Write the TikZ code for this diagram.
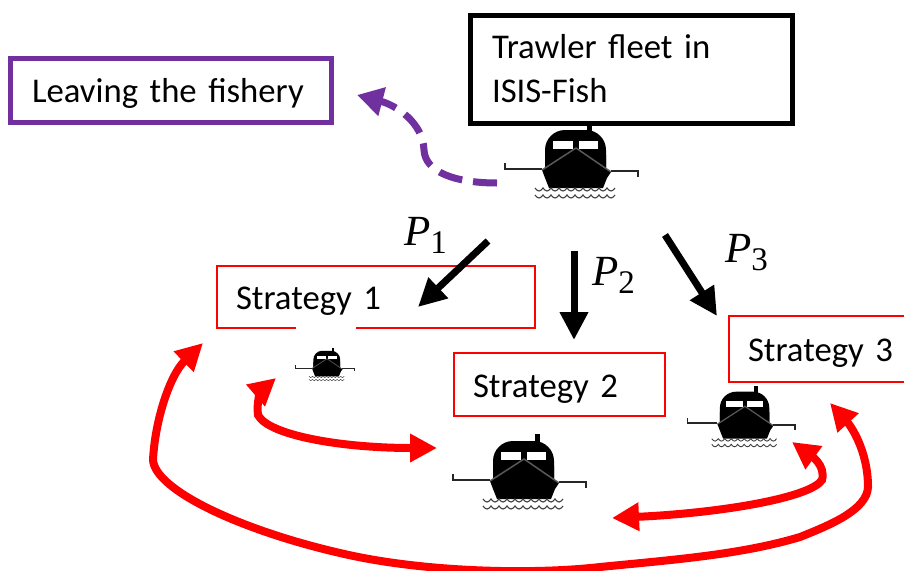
\documentclass[tikz,border=0pt]{standalone}
\usepackage{fontspec}
\setmainfont[WordSpace=0.75]{Carlito}
\newfontfamily\mathlike{Liberation Serif}
\usetikzlibrary{arrows.meta}
\definecolor{purp}{RGB}{112,48,160}
\newcommand{\boatat}[3]{%
\begin{scope}[shift={(#1,#2)},scale=#3]
 \fill (11,-37) rectangle (16,-27);
 \fill[rounded corners=#3*20pt] (-31,12) -- (-31,-30) -- (30,-30) -- (30,13);
 \fill (-31,-5) -- (30,-5) -- (30,8) -- (35,12) -- (31,18) -- (27,28) -- (-27,28) -- (-31,18) -- (-34,10) -- (-31,8) -- cycle;
 \fill[white] (-23,-19) rectangle (-3,-11);
 \fill[white] (3,-19) rectangle (22,-11);
 \draw[gray!70!black,line width=#3*1.5pt] (-34,10) -- (0,-12) -- (35,12);
 \draw[black!85,line width=#3*2pt] (-71,3) -- (-71,9) -- (-34,9);
 \draw[black!85,line width=#3*2pt] (35,11) -- (62,11) -- (62,17);
 \foreach \yy in {28,35}{
  \draw[black!75,line width=#3*1.1pt] (-41,\yy)
   \foreach \xx in {-41,-33,...,33}{ .. controls (\xx+3,\yy+4) and (\xx+5,\yy+4) .. (\xx+8,\yy)};
 }
\end{scope}}
\tikzset{
 x=1pt,y=-1pt,
 redbox/.style={draw=red,line width=2pt,outer sep=0pt,inner xsep=19pt,inner ysep=0pt,align=left,anchor=north west,font=\fontsize{34.7}{40}\selectfont},
 blackarrow/.style={line width=7pt,-{Triangle[length=28pt,width=27pt]}},
 redarrow/.style={red,line width=8pt,{Triangle[length=27pt,width=27pt]}-{Triangle[length=27pt,width=27pt]}},
 label/.style={inner sep=0pt,anchor=base west,font=\fontsize{43}{46}\selectfont\mathlike\itshape},
}
\begin{document}
\begin{tikzpicture}
\useasboundingbox (0,0) rectangle (904,570);
\fill[white] (0,0) rectangle (904,570);
% boxes
\node[draw=black,line width=5pt,outer sep=0pt,inner xsep=22pt,inner ysep=0pt,text width=278pt,minimum height=108pt,align=left,anchor=north west,font=\fontsize{34.7}{44}\selectfont] (fleet) at (470,15) {Trawler fleet in\\ISIS-Fish};
\node[draw=purp,line width=5pt,outer sep=0pt,inner xsep=22pt,inner ysep=0pt,text width=277pt,minimum height=64pt,align=left,anchor=north west,font=\fontsize{34.7}{40}\selectfont] (leave) at (10,58) {\rule{0pt}{31pt}Leaving the fishery};
\node[redbox,text width=280pt,minimum height=62pt] (s1) at (217,266) {\rule{0pt}{31pt}Strategy 1};
\node[redbox,text width=173pt,minimum height=63pt] (s2) at (454,353) {\rule{0pt}{31pt}Strategy 2};
\node[redbox,text width=190pt,minimum height=66pt] (s3) at (729,316) {\rule{0pt}{31pt}Strategy 3};
\fill[white] (296,322) rectangle (356,335);
% boats
\boatat{576}{160}{1}
\boatat{524}{471}{1}
\boatat{745}{416}{0.81}
\boatat{327}{364}{0.44}
% labels
\node[label] (p1) at (404,245) {P\raisebox{-8pt}{\fontsize{33}{34}\selectfont\upshape 1}};
\node[label] (p2) at (592,285) {P\raisebox{-8pt}{\fontsize{33}{34}\selectfont\upshape 2}};
\node[label] (p3) at (725,262) {P\raisebox{-8pt}{\fontsize{33}{34}\selectfont\upshape 3}};
% connector ends
\coordinate (a1) at (488,241); \coordinate (b1) at (418,307);
\coordinate (a2) at (574,251); \coordinate (b2) at (574,340);
\coordinate (a3) at (665,235); \coordinate (b3) at (717,316);
\coordinate (pa) at (497,183); \coordinate (pb) at (357,95);
\coordinate (r1a) at (203,343); \coordinate (r1b) at (830,403);
\coordinate (r2a) at (276,378); \coordinate (r2b) at (437,448);
\coordinate (r3a) at (792,442); \coordinate (r3b) at (612,518);
% black arrows
\draw[blackarrow] (a1) -- (b1);
\draw[blackarrow] (a2) -- (b2);
\draw[blackarrow] (a3) -- (b3);
% purple
\draw[purp,line width=7pt,dash pattern=on 24pt off 11pt,-{Triangle[length=26pt,width=28pt]}] (pa) .. controls (455,183) and (425,172) .. (424,150) .. controls (423,122) and (395,105) .. (pb);
% red
\draw[redarrow] (r1a) .. controls (170,375) and (155,420) .. (153,460) .. controls (155,490) and (240,530) .. (340,553) .. controls (420,572) and (530,575) .. (600,567) .. controls (670,560) and (740,555) .. (800,537) .. controls (830,525) and (867,510) .. (868,487) .. controls (868,450) and (850,425) .. (r1b);
\draw[redarrow] (r2a) .. controls (262,390) and (256,402) .. (258,415) .. controls (268,435) and (340,448) .. (r2b);
\draw[redarrow] (r3a) .. controls (810,455) and (826,465) .. (822,480) .. controls (810,498) and (720,513) .. (r3b);
\end{tikzpicture}
\end{document}
